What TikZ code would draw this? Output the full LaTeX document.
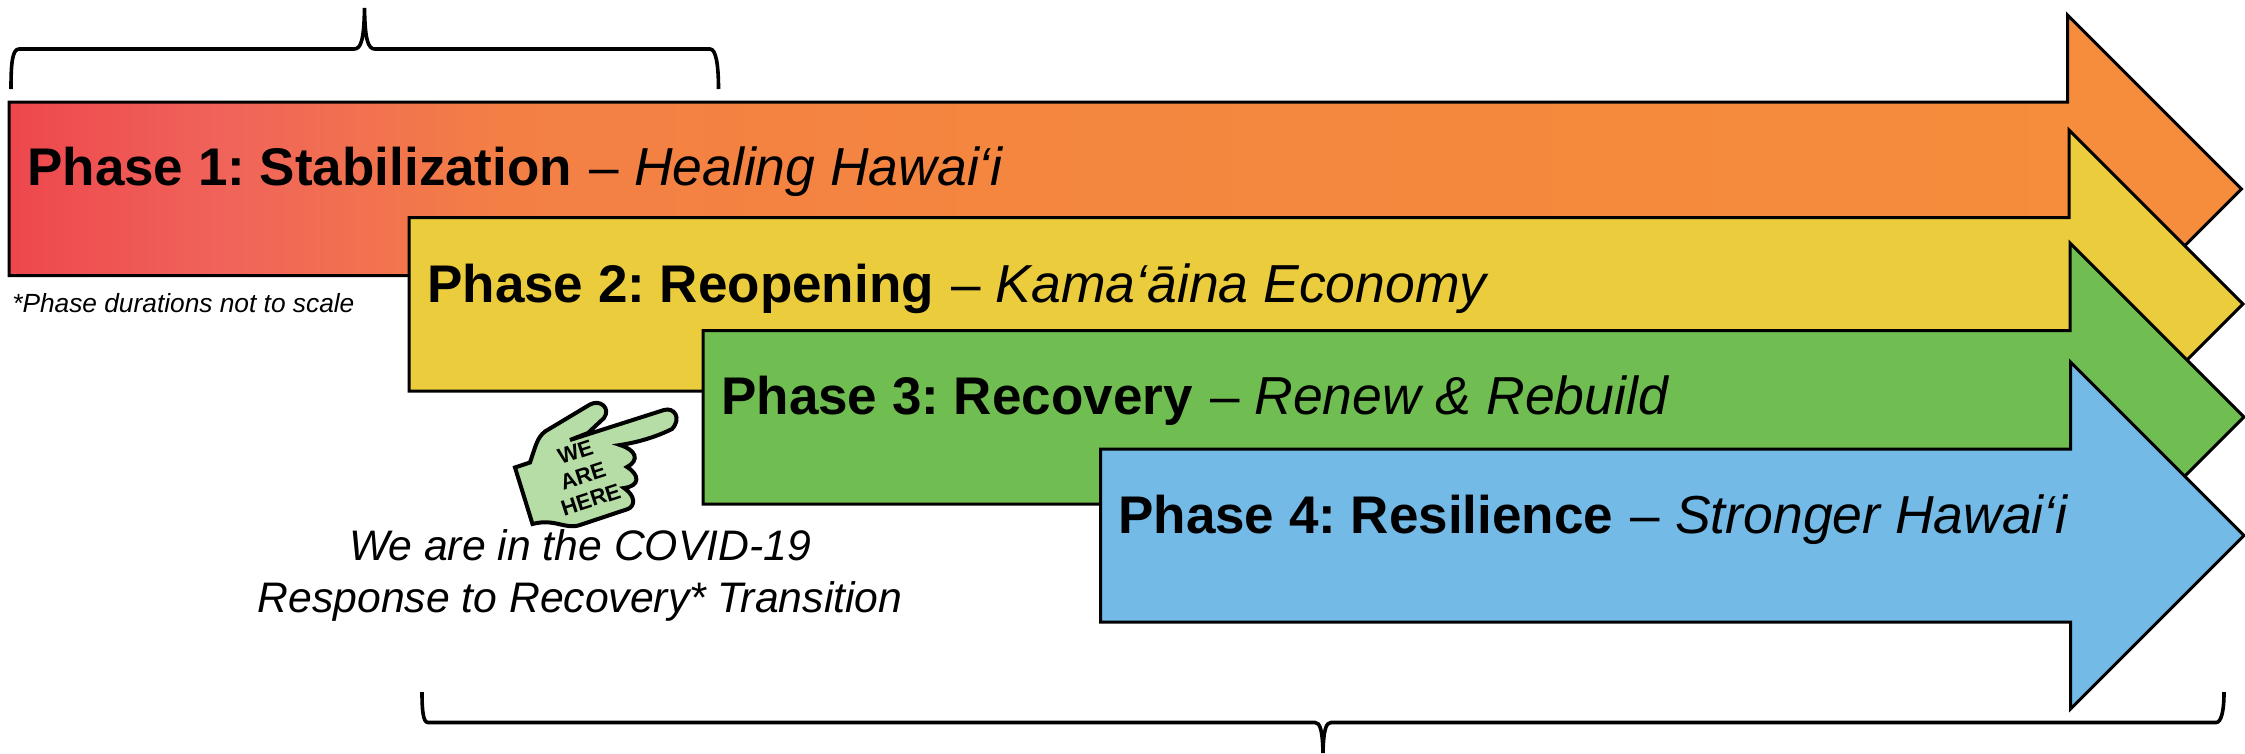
\documentclass[tikz,border=0pt]{standalone}
\usepackage{fontspec}
\setmainfont{Liberation Sans}
\usetikzlibrary{arrows}
\definecolor{phasered}{HTML}{EE474D}
\definecolor{phaselow}{HTML}{F0635A}
\definecolor{phasemid}{HTML}{F37F45}
\definecolor{phasehigh}{HTML}{F4863F}
\definecolor{phaseorange}{HTML}{F58D3C}
\definecolor{phaseyellow}{HTML}{EACC3C}
\definecolor{phasegreen}{HTML}{70BD51}
\definecolor{phaseblue}{HTML}{73BAE6}
\definecolor{handgreen}{HTML}{B5DDA5}
\pgfdeclarehorizontalshading{phaseshade}{100bp}{
    color(0bp)=(phasered);
    color(25bp)=(phasered);
    color(29.7bp)=(phaselow);
    color(36bp)=(phasemid);
    color(47bp)=(phasehigh);
    color(72bp)=(phaseorange);
    color(100bp)=(phaseorange)}
\newcommand{\phasetext}[2]{\textbf{#1} \hspace{3pt}-- {\fontsize{53.5}{60}\selectfont\itshape #2}}
\begin{document}
\frenchspacing
\begin{tikzpicture}[
            x = 1pt, % one unit is one pixel of the picture
            y = -1pt,
            line join = miter,
            semithick % line style
        ]
        \tikzstyle{phase arrow}=[
            draw = black,
            line width = 3pt
        ]
        \tikzstyle{phase label}=[
            anchor = base west,
            inner sep = 0pt,
            font = \fontsize{53}{60}\selectfont
        ]
        \tikzstyle{phase brace}=[
            draw = black,
            line width = 3.6pt
        ]
        \useasboundingbox (0,0) rectangle (2245,753);

        % the four arrows, last one on top
        \path[phase arrow, shading = phaseshade] (9,102) -- (2067.5,102) -- (2067.5,15) -- (2241.5,189) -- (2067.5,363) -- (2067.5,275.5) -- (9,275.5) -- cycle;
        \path[phase arrow, fill = phaseyellow] (409,217.5) -- (2069,217.5) -- (2069,130) -- (2243,304) -- (2069,478) -- (2069,391) -- (409,391) -- cycle;
        \path[phase arrow, fill = phasegreen] (703,330.5) -- (2070,330.5) -- (2070,243) -- (2244,417) -- (2070,591) -- (2070,504) -- (703,504) -- cycle;
        \path[phase arrow, fill = phaseblue] (1100.5,449) -- (2070.5,449) -- (2070.5,362) -- (2244,535.5) -- (2070.5,709) -- (2070.5,622) -- (1100.5,622) -- cycle;

        \node[phase label] (phaseA) at (27,185) {\phasetext{Phase 1: Stabilization}{Healing Hawai‘i}};
        \node[phase label] (phaseB) at (427,302) {\phasetext{Phase 2: Reopening}{Kama‘āina Economy}};
        \node[phase label] (phaseC) at (721,414) {\phasetext{Phase 3: Recovery}{Renew \& Rebuild}};
        \node[phase label] (phaseD) at (1118,533) {\phasetext{Phase 4: Resilience}{Stronger Hawai‘i}};

        % braces
        \path[phase brace] (11,89) .. controls (11,65) and (12,49) .. (19,49) -- (354,49) .. controls (361,49) and (364,40) .. (364.5,8) .. controls (365,40) and (368,49) .. (375,49) -- (710,49) .. controls (716,49) and (718.5,65) .. (718.5,89);
        \path[phase brace] (422,692) .. controls (422,710) and (423,722.5) .. (428,722.5) -- (1315,722.5) .. controls (1320,722.5) and (1322.5,730) .. (1323,753) .. controls (1323.5,730) and (1326,722.5) .. (1331,722.5) -- (2216,722.5) .. controls (2221,722.5) and (2224,712) .. (2224,692);

        % pointing hand
        \draw[line width = 4pt, fill = handgreen] (532.5,524) -- (515,467.5) -- (530,462.5)
            .. controls (536,445) and (537,438) .. (545,431.5) -- (590,404.5)
            .. controls (600,399) and (611,408) .. (604,418) -- (588,433) -- (570,440) -- (664,410)
            .. controls (674,407) and (682,418) .. (672,429) .. controls (658,436) and (640,442) .. (620,445)
            .. controls (636,450) and (640,460) .. (627,467) .. controls (640,475) and (640,486) .. (624,488)
            .. controls (636,496) and (635,506) .. (628,509) -- (580,525)
            .. controls (565,530) and (555,518) .. (532.5,524) -- cycle;
        \node[rotate = 18, align = center, inner sep = 0pt, font = \fontsize{22}{25}\selectfont\bfseries] (hereText) at (583,476) {WE\\ARE\\HERE};

        \node[anchor = base west, inner sep = 0pt, font = \fontsize{26.3}{29}\selectfont\itshape] (scaleNote) at (12,312) {*Phase durations not to scale};
        \node[align = center, inner sep = 0pt, font = \fontsize{42.7}{52}\selectfont\itshape] (transitionText) at (580,575) {We are in the COVID-19\\Response to Recovery* Transition};
    \end{tikzpicture}
\end{document}
